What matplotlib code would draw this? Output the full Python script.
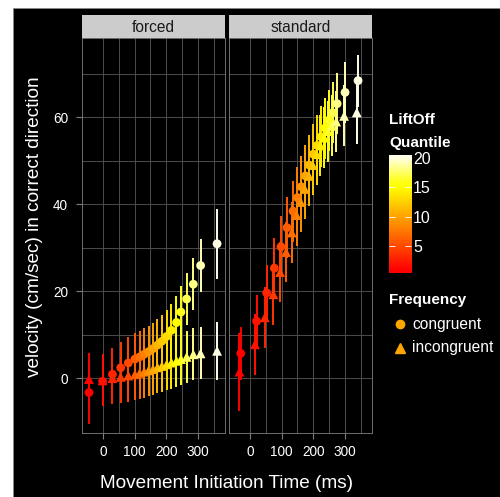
import numpy as np
import matplotlib
matplotlib.use("Agg")
from matplotlib import pyplot as plt
from matplotlib.colors import LinearSegmentedColormap, Normalize
from matplotlib.lines import Line2D
from matplotlib.patches import Rectangle

plt.rcParams['font.family'] = ['Liberation Sans', 'DejaVu Sans']

quantile = np.arange(1, 21)

# forced condition
forced_cong_time = [-44, -1, 30, 56, 80, 101, 116, 130, 144, 158, 172, 186, 201, 216, 232, 246, 264, 285, 308, 360]
forced_cong_vel = [-3.3, -0.7, 0.9, 2.4, 3.5, 4.4, 4.9, 5.5, 6.1, 6.8, 7.6, 8.5, 9.6, 11.0, 12.8, 15.2, 18.2, 21.6, 25.9, 30.9]
forced_cong_err = [7.3, 5.8, 6.0, 6.0, 6.0, 6.0, 6.0, 6.0, 6.0, 6.0, 6.0, 6.0, 6.0, 6.0, 6.0, 6.0, 6.0, 6.0, 6.0, 8.0]
forced_inc_time = [-44, -1, 30, 56, 80, 101, 116, 130, 144, 158, 172, 186, 201, 216, 232, 246, 264, 285, 308, 360]
forced_inc_vel = [-0.2, -0.5, 0.0, 0.3, 0.6, 0.9, 1.2, 1.5, 1.8, 2.1, 2.5, 2.8, 3.2, 3.6, 4.0, 4.4, 4.9, 5.5, 5.7, 6.3]
forced_inc_err = [6.0, 6.0, 6.0, 6.0, 6.0, 6.0, 6.0, 6.0, 6.0, 6.0, 6.0, 6.0, 6.0, 6.0, 6.0, 6.0, 6.0, 6.0, 6.0, 6.7]

# standard condition
standard_cong_time = [-29, 21, 53, 77, 98, 117, 136, 150, 162, 175, 187, 200, 212, 225, 237, 249, 261, 275, 300, 341]
standard_cong_vel = [5.7, 13.1, 19.6, 25.3, 30.2, 34.6, 38.4, 41.5, 44.0, 46.5, 49.0, 51.5, 53.5, 55.5, 57.5, 59.3, 61.0, 63.1, 65.7, 68.4]
standard_cong_err = [6.1, 6.0, 6.5, 7.0, 7.0, 7.0, 7.0, 7.0, 7.0, 7.0, 7.0, 7.0, 7.0, 7.0, 7.0, 7.0, 7.0, 7.0, 7.0, 6.0]
standard_inc_time = [-33, 16, 47, 74, 95, 114, 132, 147, 160, 173, 186, 198, 210, 222, 234, 246, 258, 272, 297, 337]
standard_inc_vel = [1.5, 7.8, 14.0, 19.3, 24.4, 29.0, 33.5, 37.5, 40.5, 43.5, 46.5, 49.0, 51.5, 53.5, 55.3, 56.8, 58.0, 59.0, 60.3, 61.1]
standard_inc_err = [9.0, 7.0, 7.0, 7.0, 7.0, 7.0, 7.0, 7.0, 7.0, 7.0, 7.0, 7.0, 7.0, 7.0, 7.0, 7.0, 7.0, 7.0, 7.0, 7.3]

panels = {
    "forced": (forced_cong_time, forced_cong_vel, forced_cong_err,
               forced_inc_time, forced_inc_vel, forced_inc_err),
    "standard": (standard_cong_time, standard_cong_vel, standard_cong_err,
                 standard_inc_time, standard_inc_vel, standard_inc_err),
}

# R heat.colors(20)
heat = ["#FF0000", "#FF1200", "#FF2400", "#FF3700", "#FF4900", "#FF5B00", "#FF6D00", "#FF8000",
        "#FF9200", "#FFA400", "#FFB600", "#FFC800", "#FFDB00", "#FFED00", "#FFFF00",
        "#FFFF1A", "#FFFF4D", "#FFFF80", "#FFFFB3", "#FFFFE6"]
cmap = LinearSegmentedColormap.from_list("heat", heat)
norm = Normalize(1, 20)

W, H = 500, 497


def box(x0, y0, x1, y1):
    return [x0 / W, 1 - y1 / H, (x1 - x0) / W, (y1 - y0) / H]


fig = plt.figure(figsize=(5, 4.97), dpi=100, facecolor="white")
fig.patches.append(Rectangle((13 / W, 0), 1, 1 - 8 / H, transform=fig.transFigure,
                             facecolor="black", edgecolor="#888888", lw=0.6, zorder=-10))

for i, (name, data) in enumerate(panels.items()):
    x0 = 82 + i * 147
    ax = fig.add_axes(box(x0, 38, x0 + 143, 433))
    strip = fig.add_axes(box(x0, 15, x0 + 143, 38))
    strip.set_facecolor("#CCCCCC")
    strip.set_xticks([])
    strip.set_yticks([])
    for s in strip.spines.values():
        s.set_visible(False)
    strip.text(0.5, 0.45, name, ha="center", va="center", fontsize=11.2, color="#1A1A1A",
               transform=strip.transAxes)

    ct, cv, ce, it, iv, ie = [np.asarray(d, dtype=float) for d in data]
    ax.vlines(ct, cv - ce, cv + ce, colors=cmap(norm(quantile)), lw=1.4, zorder=2)
    ax.vlines(it, iv - ie, iv + ie, colors=cmap(norm(quantile)), lw=1.4, zorder=2)
    ax.scatter(ct, cv, c=quantile, cmap=cmap, norm=norm, s=40, marker="o", linewidths=0, zorder=3)
    ax.scatter(it, iv, c=quantile, cmap=cmap, norm=norm, s=50, marker="^", linewidths=0, zorder=3)

    ax.set_facecolor("black")
    ax.set_xlim(-66, 385)
    ax.set_ylim(-12.6, 78.2)
    ax.set_xticks([0, 100, 200, 300])
    ax.set_xticks([50, 150, 250, 350], minor=True)
    ax.set_yticks([0, 20, 40, 60])
    ax.set_yticks([10, 30, 50, 70], minor=True)
    ax.grid(which="both", color="#4D4D4D", lw=0.7)
    ax.set_axisbelow(True)
    ax.tick_params(which="minor", length=0)
    ax.tick_params(which="major", color="#7F7F7F", length=4, width=0.8,
                   labelcolor="white", labelsize=9.8)
    ax.tick_params(axis="x", pad=4.5)
    ax.tick_params(axis="y", pad=6)
    for s in ax.spines.values():
        s.set_color("#7F7F7F")
        s.set_linewidth(0.6)
    if i == 1:
        ax.tick_params(axis="y", left=False, labelleft=False)

fig.text(226 / W, 1 - 483 / H, "Movement Initiation Time (ms)", ha="center", va="center",
         color="white", fontsize=13.7)
fig.text(35 / W, 1 - 227 / H, "velocity (cm/sec) in correct direction", ha="center", va="center",
         color="white", fontsize=13.7, rotation=90)

# colour bar
fig.text(389 / W, 1 - 120 / H, "LiftOff", ha="left", va="center", color="white",
         fontsize=11, fontweight="bold")
fig.text(389 / W, 1 - 143 / H, "Quantile", ha="left", va="center", color="white",
         fontsize=11, fontweight="bold")
cax = fig.add_axes(box(389, 155, 411, 273))
cax.imshow(quantile[:, None], cmap=cmap, norm=norm, aspect="auto", origin="lower",
           extent=(0, 1, 0.5, 20.5), interpolation="bilinear")
cax.set_xticks([])
cax.set_yticks([5, 10, 15, 20])
cax.tick_params(axis="y", direction="in", left=True, right=True, labelleft=False, labelright=True,
                color="white", length=4, width=0.6, labelcolor="white", labelsize=11.5, pad=1.5)
for s in cax.spines.values():
    s.set_visible(False)

# shape legend
fig.text(389 / W, 1 - 300 / H, "Frequency", ha="left", va="center", color="white",
         fontsize=11, fontweight="bold")
legend_labels = ["congruent", "incongruent"]
legend_shapes = ["o", "^"]
legend_sizes = [6.0, 7.0]
for k, (lab, mk, ms) in enumerate(zip(legend_labels, legend_shapes, legend_sizes)):
    yk = 1 - (324 + 23.5 * k) / H
    fig.add_artist(Line2D([400 / W], [yk], transform=fig.transFigure, marker=mk,
                          color="#FFA500", ls="none", markersize=ms))
    fig.text(412 / W, yk, lab, ha="left", va="center", color="white", fontsize=11.2)

fig.savefig("out.png", dpi=100, facecolor=fig.get_facecolor())
